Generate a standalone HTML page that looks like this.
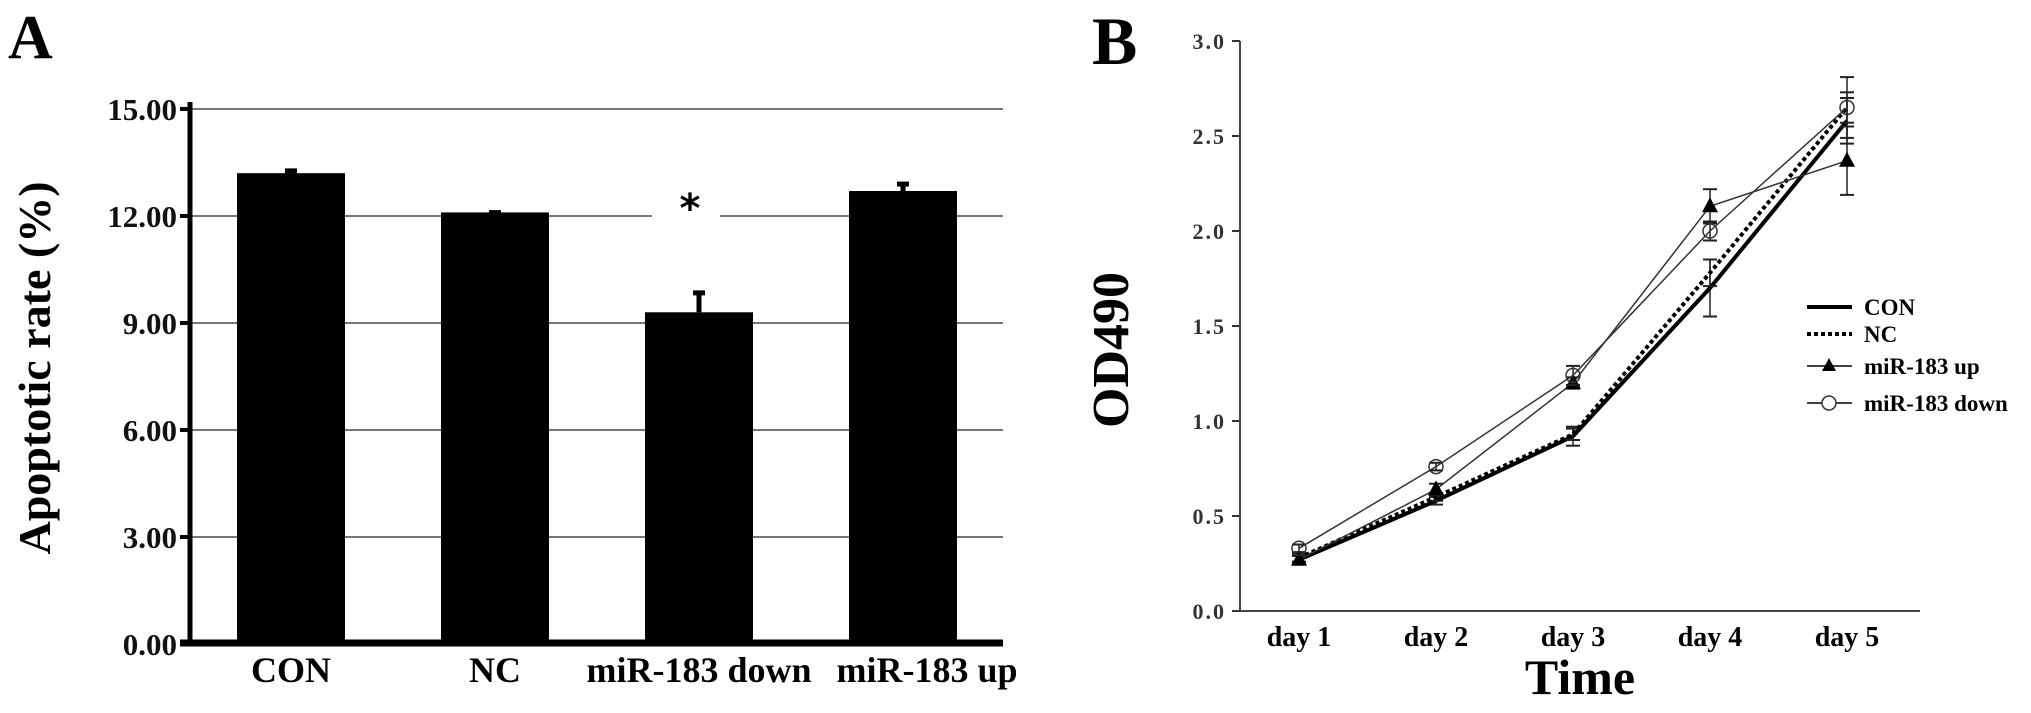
<!DOCTYPE html>
<html><head><meta charset="utf-8"><style>
html,body{margin:0;padding:0;background:#fff;}
svg{display:block;font-family:"Liberation Serif",serif;font-weight:bold;}
</style></head><body>
<svg id="s" width="2031" height="713" viewBox="0 0 2031 713" xmlns="http://www.w3.org/2000/svg">
<text x="8" y="58" font-size="62">A</text>
<text x="1092" y="64" font-size="68">B</text>
<g id="ga"></g><g id="gb"></g>
</svg>
<script>
const NS="http://www.w3.org/2000/svg";
function mk(p,t,a){const e=document.createElementNS(NS,t);for(const k in a)e.setAttribute(k,a[k]);p.appendChild(e);return e;}
// ---- Chart A data ----
const barCats=["CON","NC","miR-183 down","miR-183 up"];
const barVals=[13.2,12.1,9.3,12.7];
const barErrs=[0.12,0.05,0.6,0.25];
const aTicks=[0,3,6,9,12,15];
const aTickLabels=["0.00","3.00","6.00","9.00","12.00","15.00"];
// ---- Chart B data ----
const days=["day 1","day 2","day 3","day 4","day 5"];
const conVals=[0.27,0.58,0.92,1.70,2.58];
const ncVals=[0.28,0.60,0.93,1.78,2.65];
const upVals=[0.27,0.64,1.20,2.13,2.37];
const downVals=[0.33,0.76,1.24,2.00,2.65];
const conErr=[0.02,0.02,0.05,0.15,0.12];
const ncErr=[0.02,0.02,0.03,0.07,0.08];
const upErr=[0.02,0.03,0.03,0.09,0.18];
const downErr=[0.02,0.02,0.05,0.05,0.16];
const bTicks=[0,0.5,1,1.5,2,2.5,3];
const bTickLabels=["0.0","0.5","1.0","1.5","2.0","2.5","3.0"];

// Chart A
const ga=document.getElementById('ga');
const yA=v=>644-v*35.67;
const xA=i=>291+i*204;
aTicks.forEach((t,i)=>{
  if(t>0){
    if(t===12){
      let l=mk(ga,'line',{x1:192,x2:652,y1:yA(t),y2:yA(t),stroke:'#777','stroke-width':2});
      
      l=mk(ga,'line',{x1:720,x2:1003,y1:yA(t),y2:yA(t),stroke:'#777','stroke-width':2});
      
    } else {
      const l=mk(ga,'line',{x1:192,x2:1003,y1:yA(t),y2:yA(t),stroke:'#777','stroke-width':2});
      
    }
  }
  const tk=mk(ga,'line',{x1:180,x2:192,y1:yA(t),y2:yA(t),stroke:'#000','stroke-width':4});
  
  const tx=mk(ga,'text',{x:177,y:yA(t)+11,'text-anchor':'end','font-size':31,fill:'#111'});
  tx.textContent=aTickLabels[i];
  
});
barCats.forEach((c,i)=>{
  const v=barVals[i],e=barErrs[i],cx=xA(i);
  const r=mk(ga,'rect',{x:cx-54,y:yA(v),width:108,height:yA(0)-yA(v),fill:'#000'});
  
  const el=mk(ga,'line',{x1:cx,x2:cx,y1:yA(v),y2:yA(v+e),stroke:'#000','stroke-width':5});
  
  const ec=mk(ga,'line',{x1:cx-6,x2:cx+6,y1:yA(v+e)+2,y2:yA(v+e)+2,stroke:'#000','stroke-width':5});
  
  const lb=mk(ga,'text',{x:cx+(i===3?24:0),y:682,'text-anchor':'middle','font-size':36,fill:'#000'});
  lb.textContent=c;
  
});
let ax=mk(ga,'line',{x1:190,x2:190,y1:102,y2:646,stroke:'#000','stroke-width':5});

ax=mk(ga,'line',{x1:180,x2:1003,y1:643,y2:643,stroke:'#000','stroke-width':7});

let st=mk(ga,'text',{x:690,y:222,'text-anchor':'middle','font-size':40,fill:'#000','font-family':'"DejaVu Sans",sans-serif'});
st.textContent='*';
let yt=mk(ga,'text',{x:0,y:0,'text-anchor':'middle','font-size':46,fill:'#000',transform:'translate(50,368) rotate(-90)'});
yt.textContent='Apoptotic rate (%)';

// Chart B
const gb=document.getElementById('gb');
const yB=v=>611-v*190;
const xB=i=>1299+i*137;
bTicks.forEach((t,i)=>{
  const tk=mk(gb,'line',{x1:1232,x2:1240,y1:yB(t),y2:yB(t),stroke:'#333','stroke-width':2});
  
  const tx=mk(gb,'text',{x:1226,y:yB(t)+8,'text-anchor':'end','font-size':22,fill:'#333','letter-spacing':'2'});
  tx.textContent=bTickLabels[i];
  
});
ax=mk(gb,'line',{x1:1240,x2:1240,y1:yB(3),y2:yB(0),stroke:'#444','stroke-width':2});

ax=mk(gb,'line',{x1:1240,x2:1920,y1:yB(0),y2:yB(0),stroke:'#444','stroke-width':2});

days.forEach((d,i)=>{
  const t=mk(gb,'text',{x:xB(i),y:646,'text-anchor':'middle','font-size':28,fill:'#000'});
  t.textContent=d;
});
let tt=mk(gb,'text',{x:1580,y:694,'text-anchor':'middle','font-size':50,fill:'#000'});
tt.textContent='Time';
tt=mk(gb,'text',{x:0,y:0,'text-anchor':'middle','font-size':52,fill:'#000',transform:'translate(1128,350) rotate(-90)'});
tt.textContent='OD490';

function series(name,vals,errs,style,marker){
  const pts=vals.map((v,i)=>xB(i)+','+yB(v)).join(' ');
  errs.forEach((e,i)=>{
    const x=xB(i),v=vals[i];
    const l=mk(gb,'line',{x1:x,x2:x,y1:yB(v-e),y2:yB(v+e),stroke:'#222','stroke-width':1.5});
    
    [v-e,v+e].forEach(w=>{const c=mk(gb,'line',{x1:x-7,x2:x+7,y1:yB(w),y2:yB(w),stroke:'#222','stroke-width':2});
      });
  });
  const p=mk(gb,'polyline',Object.assign({points:pts,fill:'none',stroke:'#000'},style));
  
  vals.forEach((v,i)=>{
    const x=xB(i),y=yB(v);let m;
    if(marker==='tri') m=mk(gb,'polygon',{points:`${x},${y-9} ${x-8},${y+6} ${x+8},${y+6}`,fill:'#000'});
    else if(marker==='circ') m=mk(gb,'circle',{cx:x,cy:y,r:7,fill:'none',stroke:'#333','stroke-width':1.5});
    if(m){}
  });
}
series('con',conVals,conErr,{'stroke-width':4},null);
series('nc',ncVals,ncErr,{'stroke-width':4,'stroke-dasharray':'4 3'},null);
series('mir-183-up',upVals,upErr,{'stroke-width':1.5,stroke:'#333'},'tri');
series('mir-183-down',downVals,downErr,{'stroke-width':1.5,stroke:'#333'},'circ');

// legend
const lg=mk(gb,'g',{});

const leg=[['CON',307,{'stroke-width':4}],['NC',334,{'stroke-width':4,'stroke-dasharray':'4 3'}],['miR-183 up',366,{'stroke-width':1.5}],['miR-183 down',403,{'stroke-width':1.5}]];
leg.forEach((L,i)=>{
  const l=mk(lg,'line',Object.assign({x1:1807,x2:1852,y1:L[1],y2:L[1],stroke:'#000'},L[2]));
  
  if(i===2){const m=mk(lg,'polygon',{points:`1829,${L[1]-8} 1822,${L[1]+5} 1836,${L[1]+5}`,fill:'#000'});}
  if(i===3){const m=mk(lg,'circle',{cx:1829,cy:L[1],r:7,fill:'#fff',stroke:'#333','stroke-width':1.5});}
  const t=mk(lg,'text',{x:1864,y:L[1]+8,'font-size':23,fill:'#000'});
  t.textContent=L[0];
});
</script>
</body></html>
